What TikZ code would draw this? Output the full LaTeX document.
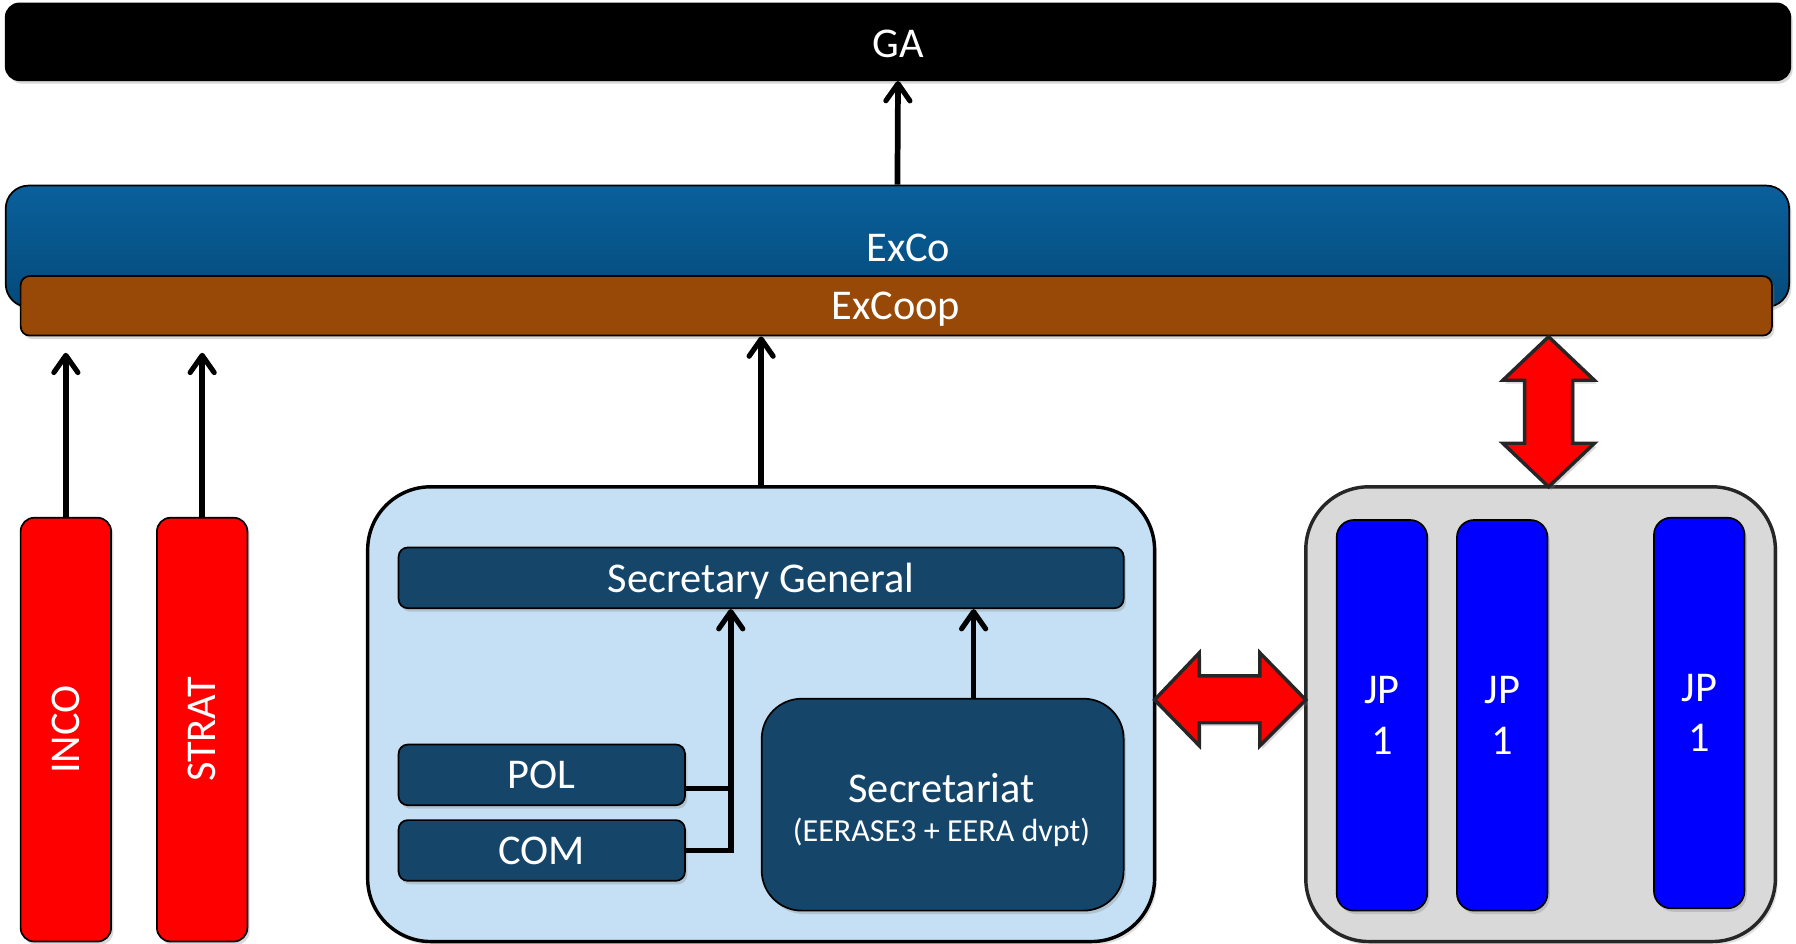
\documentclass[tikz,border=0pt]{standalone}
\usepackage{fontspec}
\setmainfont{Carlito}
\usetikzlibrary{shadows,arrows.meta,calc}
\definecolor{exTop}{RGB}{10,96,156}
\definecolor{exBot}{RGB}{4,74,122}
\definecolor{coop}{RGB}{152,72,7}
\definecolor{lightb}{RGB}{197,224,244}
\definecolor{darkb}{RGB}{22,69,106}
\definecolor{grayc}{RGB}{217,217,217}
\definecolor{edgec}{RGB}{38,38,38}
\definecolor{jpblue}{RGB}{0,0,255}
\begin{document}
\begin{tikzpicture}[x=1pt,y=-1pt,
  box/.style={draw=black, line width=1.5pt, text=white, inner sep=0pt,
    drop shadow={opacity=0.3,shadow xshift=2pt,shadow yshift=-3pt}},
  big/.style={font=\fontsize{37}{44}\selectfont},
  container/.style={line width=3pt, inner sep=0pt, rounded corners=55pt,
    drop shadow={opacity=0.25,shadow xshift=2pt,shadow yshift=-3pt}},
  conn/.style={line width=5pt, draw=black},
  tip/.style={-{Straight Barb[length=15pt,width=21pt,line width=4.5pt,round]}},
  blockarrow/.style={draw=edgec, fill=red, line width=3pt, line join=miter,
    drop shadow={opacity=0.3,shadow xshift=2pt,shadow yshift=-3pt}}
]
\useasboundingbox (0,0) rectangle (1568,824);

% top bars
\node[box, fill=black, rounded corners=12pt, minimum width=1558pt, minimum height=67pt] (ga) at (784,36.5) {};
\node[big, text=white] (galbl) at (784,38.5) {GA};
\node[box, top color=exTop, bottom color=exBot, rounded corners=20pt, minimum width=1557pt, minimum height=106pt] (exco) at (783.5,215) {};
\node[big, text=white] (excolbl) at (793,216) {ExCo};
\node[box, fill=coop, rounded corners=8pt, minimum width=1529pt, minimum height=52pt] (excoop) at (782.5,267) {};
\node[big, text=white] (excooplbl) at (782,270) {ExCoop};

% red side boxes
\node[box, fill=red, rounded corners=12pt, minimum width=79pt, minimum height=370pt, big] (inco) at (57.5,637) {\rotatebox{90}{INCO}};
\node[box, fill=red, rounded corners=12pt, minimum width=79pt, minimum height=370pt, big] (strat) at (176.5,637) {\rotatebox{90}{STRAT}};

% secretariat container
\node[container, draw=black, fill=lightb, minimum width=687pt, minimum height=397pt] (secbox) at (664.5,623.5) {};
\node[box, fill=darkb, rounded corners=8pt, minimum width=633pt, minimum height=53pt] (sg) at (664.5,504.5) {};
\node[big, text=white] (sglbl) at (664.5,507) {Secretary General};
\node[box, fill=darkb, rounded corners=8pt, minimum width=250pt, minimum height=53pt, big] (pol) at (473,676.5) {POL};
\node[box, fill=darkb, rounded corners=8pt, minimum width=250pt, minimum height=53pt, big] (com) at (473,742.5) {COM};
\node[box, fill=darkb, rounded corners=35pt, minimum width=316pt, minimum height=185pt] (sect) at (823,702.5) {};
\node[text=white, font=\fontsize{37}{44}\selectfont] (sectlbl) at (822,688) {Secretariat};
\node[text=white, font=\fontsize{28}{34}\selectfont] (sectsub) at (822,727) {(EERASE3 + EERA dvpt)};

% JP container
\node[container, draw=edgec, fill=grayc, minimum width=410pt, minimum height=397pt] (jpc) at (1345,623.5) {};
\node[box, fill=jpblue, rounded corners=15pt, minimum width=79pt, minimum height=341pt, big, align=center] (jp1) at (1206.5,624.5) {JP\\1};
\node[box, fill=jpblue, rounded corners=15pt, minimum width=79pt, minimum height=341pt, big, align=center] (jp2) at (1311.5,624.5) {JP\\1};
\node[box, fill=jpblue, rounded corners=15pt, minimum width=79pt, minimum height=341pt, big, align=center] (jp3) at (1483.5,622.5) {JP\\1};

% connectors
\draw[conn, tip] (exco.north) -- (ga.south);
\coordinate (incoT) at (57.5,308);
\coordinate (stratT) at (176.5,308);
\draw[conn, tip] (inco.north) -- (incoT);
\draw[conn, tip] (strat.north) -- (stratT);
\draw[conn, tip] (secbox.north) -- (secbox.north |- excoop.south);
\coordinate (jx) at (638,0);
\coordinate (polc) at ($(pol.east)+(0,12)$);
\draw[conn] (polc) -- (polc -| jx);
\draw[conn, tip] (com.east) -| (jx |- sg.south);
\coordinate (sectT) at ($(sect.north)+(27,0)$);
\draw[conn, tip] (sectT) -- (sectT |- sg.south);

% block double arrows
\draw[blockarrow] (1008,611) -- (1047,570) -- (1047,590) -- (1100,590) -- (1100,570) -- (1140,611)
  -- (1100,651) -- (1100,631) -- (1047,631) -- (1047,651) -- cycle;
\draw[blockarrow] (1352,294) -- (1312,332) -- (1331,332) -- (1331,387) -- (1312,387) -- (1352,425)
  -- (1392,387) -- (1373,387) -- (1373,332) -- (1392,332) -- cycle;
\end{tikzpicture}
\end{document}
